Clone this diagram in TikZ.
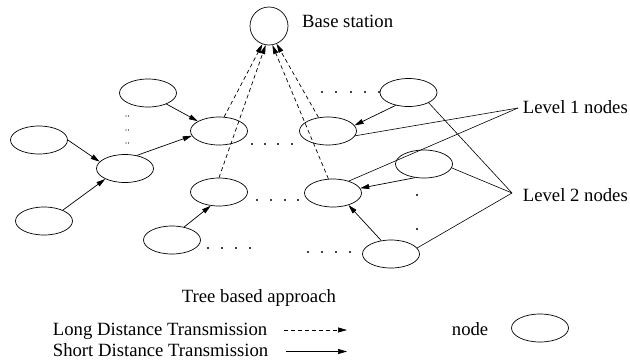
\documentclass[tikz,border=0pt]{standalone}
\usepackage{fontspec}
\setmainfont{Liberation Serif}
\newfontfamily\tnr{Liberation Serif}
\usetikzlibrary{shapes.geometric,arrows.meta}
\begin{document}
\begin{tikzpicture}[x=1pt,y=-1pt,
  nd/.style={ellipse,draw,line width=0.7pt,minimum width=57pt,minimum height=28pt,inner sep=0pt},
  bs/.style={circle,draw,line width=0.7pt,minimum size=38pt,inner sep=0pt},
  lbl/.style={anchor=base west,inner sep=0pt,font=\tnr\fontsize{18.7}{22}\selectfont},
  sarr/.style={line width=0.7pt,-{Triangle[length=9pt,width=5pt]}},
  darr/.style={line width=0.7pt,dash pattern=on 4pt off 3pt,-{Triangle[length=9pt,width=5pt]}},
  lline/.style={line width=0.6pt},
  dotr/.style={fill=black}]
\useasboundingbox (0,0) rectangle (630,360);
% nodes
\node[bs] (BS) at (269,26) {};
\node[nd] (E1) at (148,93) {};
\node[nd] (E2) at (39,140) {};
\node[nd] (E3) at (125,168.5) {};
\node[nd] (E4) at (44,221) {};
\node[nd] (E5) at (219,131) {};
\node[nd] (E6) at (219,192) {};
\node[nd] (E7) at (172,240) {};
\node[nd] (E8) at (408.5,92.5) {};
\node[nd] (E9) at (328,131) {};
\node[nd] (E10) at (424,164) {};
\node[nd] (E11) at (333,193) {};
\node[nd] (E12) at (391,254) {};
\node[nd] (EL) at (540,328) {};
% labels
\node[lbl] (tBS) at (302,27) {Base station};
\node[lbl] (tL1) at (522.7,113) {Level 1 nodes};
\node[lbl] (tL2) at (522.7,201.7) {Level 2 nodes};
\node[lbl] (tTree) at (181.7,302) {Tree based approach};
\node[lbl] (tLong) at (52.7,335) {Long Distance Transmission};
\node[lbl] (tShort) at (52.7,356.5) {Short Distance Transmission};
\node[lbl] (tNode) at (451.7,335) {node};
% label connector apexes
\coordinate (L1) at (518,108);
\coordinate (L2) at (512,193);
\draw[lline] (L1) -- (E9.-10);
\draw[lline] (L1) -- (E11.37);
\draw[lline] (L2) -- (E8.-27);
\draw[lline] (L2) -- (E10.-8);
\draw[lline] (L2) -- (E12.13);
% long distance (dashed) arrows
\draw[darr] (E5.70) -- (BS.250);
\draw[darr] (E6.90) -- (BS.260);
\draw[darr] (E11.108) -- (BS.280);
\draw[darr] (E9.125) -- (BS.293);
% short distance arrows
\draw[sarr] (E1.-31) -- (E5.155);
\draw[sarr] (E2.0) -- (E3.165);
\draw[sarr] (E4.30) -- (E3.208);
\draw[sarr] (E3.48) -- (E5.190);
\draw[sarr] (E7.47) -- (E6.239);
\draw[sarr] (E8.225) -- (E9.12);
\draw[sarr] (E10.237) -- (E11.10);
\draw[sarr] (E12.126) -- (E11.-38);
% dots
\foreach \x in {252,265,278,292} \fill[dotr] (\x,144) circle (1.2);
\foreach \x in {257,271,285,298} \fill[dotr] (\x,200) circle (1.2);
\foreach \x in {208,222,236,250} \fill[dotr] (\x,248) circle (1.2);
\foreach \x in {322,336,351,365,379} \fill[dotr] (\x,92) circle (1.2);
\foreach \x in {308,322,336,350} \fill[dotr] (\x,252) circle (1.2);
\foreach \y in {195,229} \fill[dotr] (417,\y) circle (1.2);
\foreach \y in {116,130,143} {\fill[dotr] (126,\y) circle (0.6); \fill[dotr] (128.5,\y) circle (0.6);}
% legend arrows
\coordinate (dA) at (284,330);
\coordinate (dB) at (347,330);
\coordinate (sA) at (286,351.5);
\coordinate (sB) at (347,351.5);
\draw[darr] (dA) -- (dB);
\draw[sarr] (sA) -- (sB);
\end{tikzpicture}
\end{document}
